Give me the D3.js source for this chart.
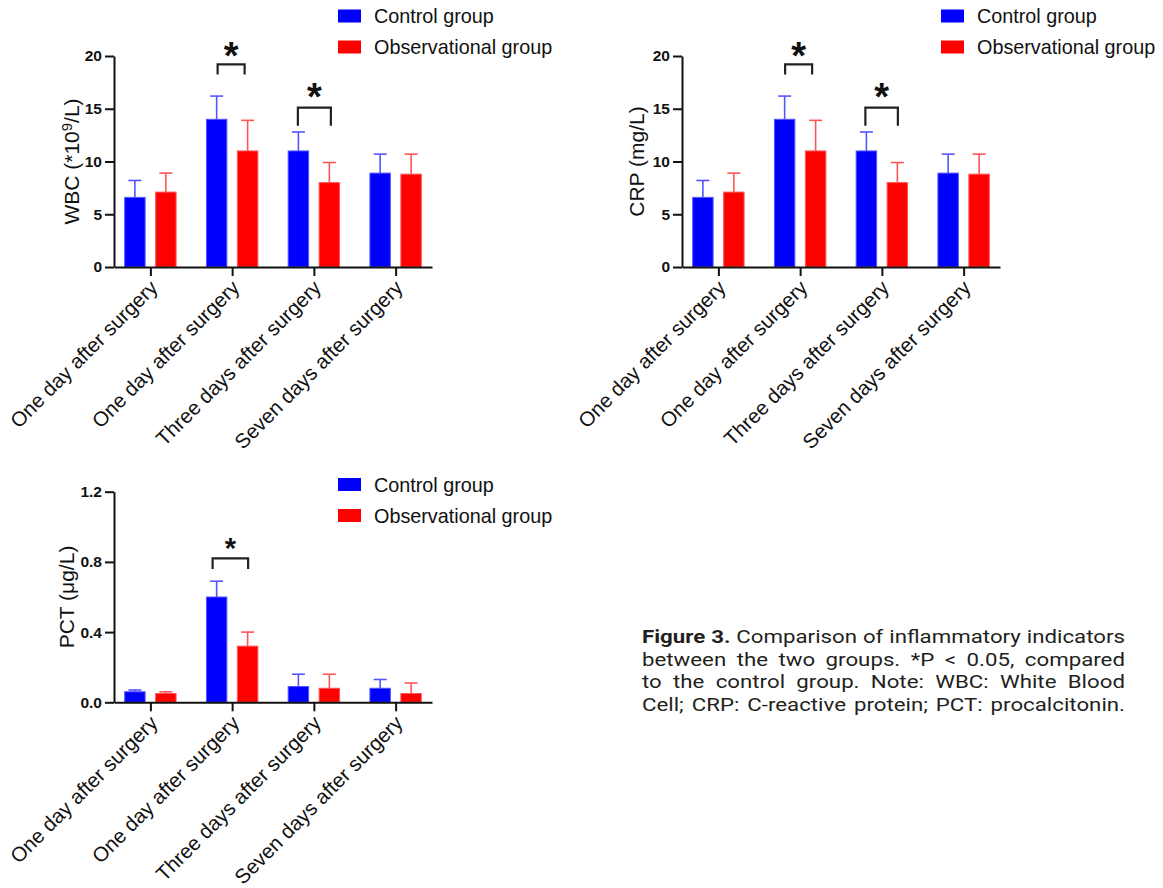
<!DOCTYPE html>
<html>
<head>
<meta charset="utf-8">
<script src="https://cdn.jsdelivr.net/npm/d3@7"></script>
<style>
  html, body { margin: 0; padding: 0; background: #ffffff; }
  svg { display: block; }
</style>
</head>
<body>
<svg id="fig" width="1163" height="888"></svg>
<script>
// ---- data ----
const categories = ["One day after surgery", "One day after surgery", "Three days after surgery", "Seven days after surgery"];
const groups = ["Control group", "Observational group"];

const wbcControl   = [6.6, 14.0, 11.0, 8.9];
const wbcControlSD = [1.6, 2.2, 1.8, 1.8];
const wbcObserv    = [7.1, 11.0, 8.0, 8.8];
const wbcObservSD  = [1.8, 2.9, 1.9, 1.9];

const crpControl   = [6.6, 14.0, 11.0, 8.9];
const crpControlSD = [1.6, 2.2, 1.8, 1.8];
const crpObserv    = [7.1, 11.0, 8.0, 8.8];
const crpObservSD  = [1.8, 2.9, 1.9, 1.9];

const pctControl   = [0.06, 0.60, 0.09, 0.08];
const pctControlSD = [0.01, 0.09, 0.07, 0.05];
const pctObserv    = [0.05, 0.32, 0.08, 0.05];
const pctObservSD  = [0.01, 0.08, 0.08, 0.06];

const wbcTicks = [0, 5, 10, 15, 20];
const crpTicks = [0, 5, 10, 15, 20];
const pctTicks = [0, 0.4, 0.8, 1.2];

// categories with P < 0.05
const wbcSignificant = [1, 2];
const crpSignificant = [1, 2];
const pctSignificant = [1];

const captionLines = [
  ["Figure 3.", " Comparison of inflammatory indicators"],
  ["", "between the two groups. *P < 0.05, compared"],
  ["", "to the control group. Note: WBC: White Blood"],
  ["", "Cell; CRP: C-reactive protein; PCT: procalcitonin."]
];

// ---- drawing ----
const svg = d3.select("#fig");
const FONT = "'Liberation Sans', Arial, Helvetica, sans-serif";
const colors = { "Control group": "#0000ff", "Observational group": "#ff0000" };
const errColors = { "Control group": "#5555ff", "Observational group": "#ff5555" };

function drawPanel(cfg) {
  const g = svg.append("g");
  const x = d3.scalePoint()
    .domain(d3.range(categories.length))
    .range([cfg.left, cfg.left + 318])
    .padding(0.445);
  const xg = d3.scaleBand().domain(groups).range([-25.7, 25.7]).paddingInner(0.34);
  const y = d3.scaleLinear().domain([0, d3.max(cfg.ticks)]).range([cfg.bottom, cfg.top]);

  const series = [
    { name: groups[0], values: cfg.control, sd: cfg.controlSD },
    { name: groups[1], values: cfg.observ, sd: cfg.observSD }
  ];

  series.forEach(s => {
    const rows = s.values.map((v, i) => ({ i, v, sd: s.sd[i] }));
    const cx = d => x(d.i) + xg(s.name) + xg.bandwidth() / 2;
    const sg = g.append("g");
    // upper error whisker
    sg.selectAll("line.err").data(rows).join("line")
      .attr("class", "err")
      .attr("x1", cx).attr("x2", cx)
      .attr("y1", d => y(d.v)).attr("y2", d => y(d.v + d.sd))
      .attr("stroke", errColors[s.name]).attr("stroke-width", 1.6);
    sg.selectAll("line.cap").data(rows).join("line")
      .attr("class", "cap")
      .attr("x1", d => cx(d) - 6.5).attr("x2", d => cx(d) + 6.5)
      .attr("y1", d => y(d.v + d.sd)).attr("y2", d => y(d.v + d.sd))
      .attr("stroke", errColors[s.name]).attr("stroke-width", 1.6);
    // bars
    sg.selectAll("rect").data(rows).join("rect")
      .attr("x", d => x(d.i) + xg(s.name))
      .attr("width", xg.bandwidth())
      .attr("y", d => y(d.v))
      .attr("height", d => y(0) - y(d.v))
      .attr("fill", colors[s.name])
      .attr("stroke", errColors[s.name])
      .attr("stroke-width", 1);
  });

  // y axis
  const ya = g.append("g")
    .attr("transform", `translate(${cfg.left},0)`)
    .call(d3.axisLeft(y).tickValues(cfg.ticks).tickSize(9).tickSizeOuter(0).tickPadding(3).tickFormat(cfg.fmt));
  ya.select(".domain").attr("stroke", "#111").attr("stroke-width", 2);
  ya.selectAll(".tick line").attr("stroke", "#111").attr("stroke-width", 2);
  ya.selectAll(".tick text")
    .attr("fill", "#111")
    .style("font-family", FONT).style("font-weight", "bold").style("font-size", "15.5px");

  // x axis
  const xa = g.append("g")
    .attr("transform", `translate(0,${cfg.bottom})`)
    .call(d3.axisBottom(x).tickSize(9).tickSizeOuter(0).tickFormat(i => categories[i]));
  xa.select(".domain").attr("stroke", "#111").attr("stroke-width", 2);
  xa.selectAll(".tick line").attr("stroke", "#111").attr("stroke-width", 2);
  xa.selectAll(".tick text")
    .attr("y", 0).attr("dy", 0)
    .attr("transform", "translate(8,22) rotate(-45)")
    .attr("fill", "#111")
    .style("text-anchor", "end")
    .style("font-family", FONT).style("font-size", "20.5px");

  // y title
  const t = g.append("text")
    .attr("transform", `translate(${cfg.left - cfg.titleOffset},${(cfg.top + cfg.bottom) / 2}) rotate(-90)`)
    .attr("text-anchor", "middle")
    .attr("fill", "#111")
    .style("font-family", FONT).style("font-size", "21px");
  t.append("tspan").text(cfg.title[0]);
  if (cfg.title.length > 1) {
    t.append("tspan").attr("dy", "-0.45em").style("font-size", "15px").text(cfg.title[1]);
    t.append("tspan").attr("dy", "0.32em").text(cfg.title[2]);
  }

  // significance brackets
  cfg.significant.forEach((ci, k) => {
    const b = cfg.brackets[k];
    const x0 = x(ci) + b.l, x1 = x(ci) + b.r;
    const yt = y(b.top), yl = y(b.leg);
    g.append("path")
      .attr("d", `M${x0},${yl}V${yt}H${x1}V${yl}`)
      .attr("fill", "none").attr("stroke", "#222").attr("stroke-width", 2.2);
    g.append("text")
      .attr("x", (x0 + x1) / 2)
      .attr("y", yt - b.gap + 0.56 * b.size)
      .attr("text-anchor", "middle")
      .attr("fill", "#111")
      .style("font-family", FONT).style("font-weight", "bold").style("font-size", b.size + "px")
      .text("*");
  });

  // legend
  groups.forEach((name, k) => {
    const ly = cfg.legend.y + k * 31;
    g.append("rect")
      .attr("x", cfg.legend.x).attr("y", ly)
      .attr("width", 23).attr("height", 13)
      .attr("fill", colors[name]);
    g.append("text")
      .attr("x", cfg.legend.x + 36).attr("y", ly + 13.5)
      .attr("fill", "#111")
      .style("font-family", FONT).style("font-size", "19.8px")
      .text(name);
  });
}

drawPanel({
  left: 114, top: 56, bottom: 267,
  control: wbcControl, controlSD: wbcControlSD, observ: wbcObserv, observSD: wbcObservSD,
  ticks: wbcTicks, fmt: d3.format("d"),
  title: ["WBC (*10", "9", "/L)"], titleOffset: 35,
  significant: wbcSignificant,
  brackets: [{ top: 19.2, leg: 18.25, l: -14.5, r: 12.5, gap: 17, size: 38 },
             { top: 15.1, leg: 13.4, l: -16, r: 17, gap: 19, size: 38 }],
  legend: { x: 338, y: 9.5 }
});

drawPanel({
  left: 682, top: 56, bottom: 267,
  control: crpControl, controlSD: crpControlSD, observ: crpObserv, observSD: crpObservSD,
  ticks: crpTicks, fmt: d3.format("d"),
  title: ["CRP (mg/L)"], titleOffset: 38,
  significant: crpSignificant,
  brackets: [{ top: 19.2, leg: 18.25, l: -15, r: 12, gap: 17, size: 38 },
             { top: 15.1, leg: 13.4, l: -16.5, r: 16, gap: 19, size: 38 }],
  legend: { x: 941, y: 9.5 }
});

drawPanel({
  left: 114, top: 491.7, bottom: 702.3,
  control: pctControl, controlSD: pctControlSD, observ: pctObserv, observSD: pctObservSD,
  ticks: pctTicks, fmt: d3.format(".1f"),
  title: ["PCT (\u03bcg/L)"], titleOffset: 40,
  significant: pctSignificant,
  brackets: [{ top: 0.82, leg: 0.76, l: -19.5, r: 16, gap: 17, size: 29 }],
  legend: { x: 338, y: 478 }
});

// caption: wide-set text, each line justified between the two edges
const capLeft = 642, capRight = 1125, capTop = 643, capStep = 22.7;
const capWidth = capRight - capLeft;
const cap = svg.append("g");
const capTexts = captionLines.map((parts, k) => {
  const t = cap.append("text")
    .attr("x", 0).attr("y", capTop + k * capStep)
    .attr("fill", "#231f20")
    .style("font-family", "Roboto, 'Liberation Sans', sans-serif").style("font-size", "19px");
  if (parts[0]) t.append("tspan").style("font-weight", "bold").text(parts[0]);
  t.append("tspan").text(parts[1]);
  return { t, full: parts[0] + parts[1], len: t.node().getComputedTextLength() };
});
const sx = Math.min(1.2, (capWidth - 2) / d3.max(capTexts, d => d.len));
cap.attr("transform", `translate(${capLeft},0) scale(${sx},1)`);
capTexts.forEach(d => {
  const spaces = (d.full.match(/ /g) || []).length;
  if (spaces > 0) d.t.style("word-spacing", ((capWidth / sx - d.len) / spaces) + "px");
});
</script>
</body>
</html>
